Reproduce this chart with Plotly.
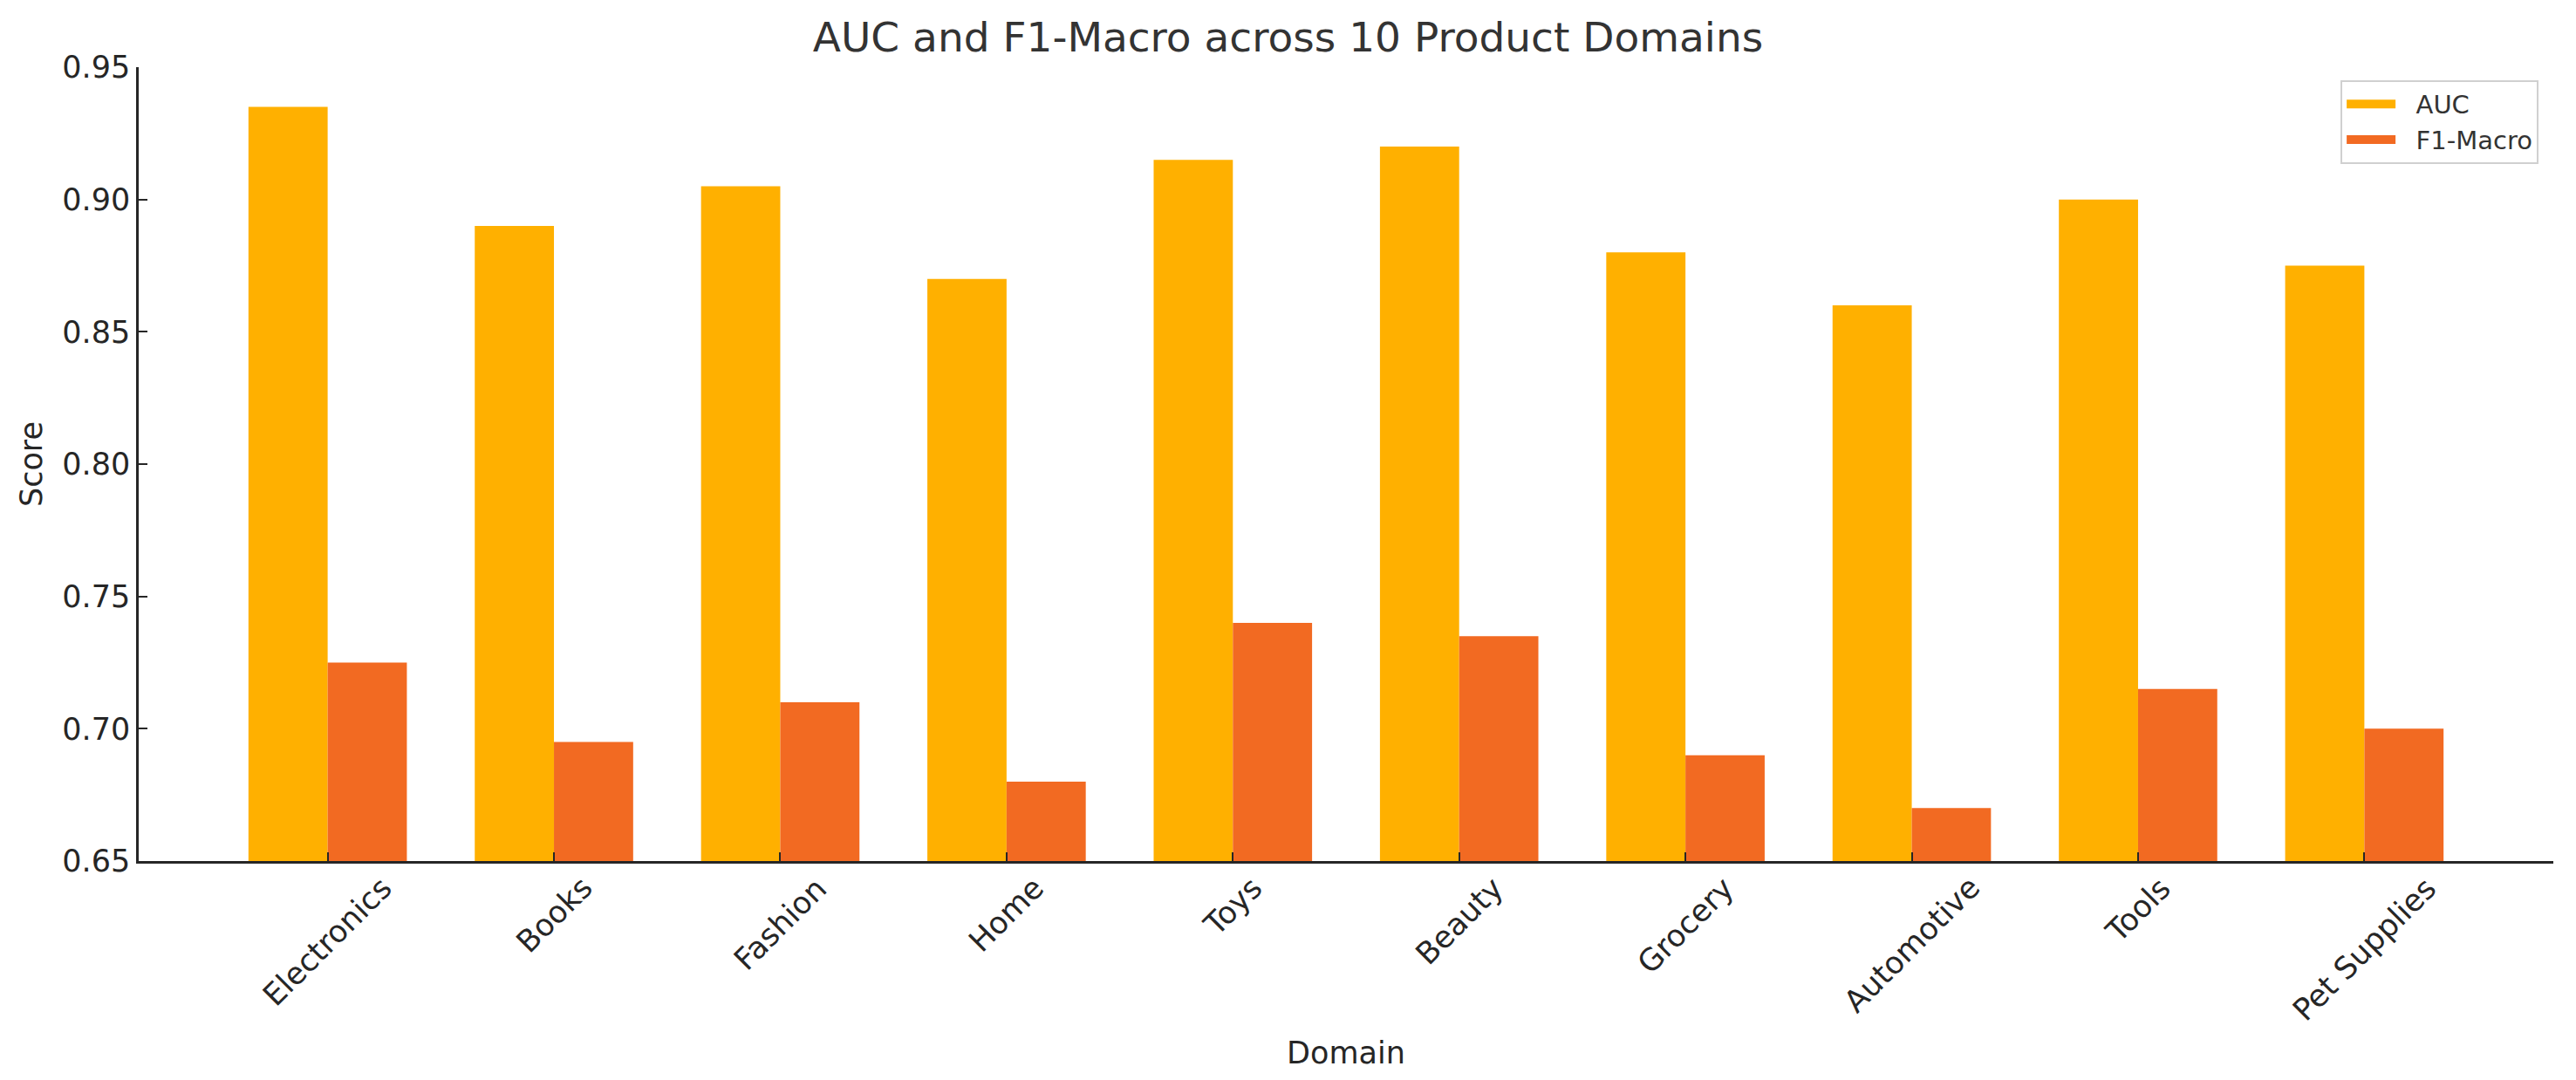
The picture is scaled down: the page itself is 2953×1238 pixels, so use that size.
import plotly.graph_objects as go

domains = ["Electronics", "Books", "Fashion", "Home", "Toys",
           "Beauty", "Grocery", "Automotive", "Tools", "Pet Supplies"]
auc = [0.935, 0.89, 0.905, 0.87, 0.915, 0.92, 0.88, 0.86, 0.90, 0.875]
f1_macro = [0.725, 0.695, 0.71, 0.68, 0.74, 0.735, 0.69, 0.67, 0.715, 0.70]
y_ticks = [0.65, 0.70, 0.75, 0.80, 0.85, 0.90, 0.95]

series = [("AUC", auc, "#FFB000"), ("F1-Macro", f1_macro, "#F26A22")]

font = "DejaVu Sans"
axis_color = "#262626"

fig = go.Figure()
for name, vals, color in series:
    fig.add_trace(go.Bar(x=domains, y=vals, name=name, marker_color=color,
                         marker_line_width=0, legendgroup=name, showlegend=False))
    # wide legend swatch, like matplotlib's patches
    fig.add_trace(go.Scatter(x=[None], y=[None], mode="lines", name="\u00a0\u00a0" + name,
                             line=dict(color=color, width=24), legendgroup=name))

# rotated labels centred on each category (matplotlib-like)
for d in domains:
    fig.add_annotation(x=d, xref="x", y=0, yref="paper", text=d, showarrow=False,
                       textangle=-45, xanchor="center", yanchor="top", yshift=-8,
                       font=dict(family=font, size=35, color=axis_color))

fig.update_layout(
    width=2937, height=1222,
    margin=dict(l=151, r=18, t=69, b=228),
    paper_bgcolor="white", plot_bgcolor="white",
    barmode="group", bargap=0.3, bargroupgap=0,
    title=dict(text="AUC and F1-Macro across 10 Product Domains", x=0.5, xanchor="center",
               y=1 - 35 / 1222, yanchor="middle",
               font=dict(family=font, size=47, color="#333333")),
    legend=dict(x=0.9939, y=0.9837, xanchor="right", yanchor="top",
                bgcolor="white", bordercolor="#d0d0d0", borderwidth=2,
                font=dict(family=font, size=29, color="#333333"),
                itemwidth=56, tracegroupgap=0),
    font=dict(family=font, color=axis_color),
)
fig.update_xaxes(
    range=[-0.835, 9.835], showticklabels=False,
    showline=True, linecolor=axis_color, linewidth=2.5,
    ticks="inside", ticklen=10, tickwidth=2, tickcolor=axis_color,
    showgrid=False, zeroline=False,
    title=dict(text="Domain", font=dict(family=font, size=35, color=axis_color), standoff=206),
)
fig.update_yaxes(
    range=[0.65, 0.95], tickvals=y_ticks, ticktext=[f"{v:.2f}" for v in y_ticks],
    showline=True, linecolor=axis_color, linewidth=2.5,
    ticks="inside", ticklen=10, tickwidth=2, tickcolor=axis_color,
    tickfont=dict(family=font, size=35, color=axis_color),
    showgrid=False, zeroline=False,
    title=dict(text="Score", font=dict(family=font, size=35, color=axis_color), standoff=13),
)

fig.write_html("out.html")
